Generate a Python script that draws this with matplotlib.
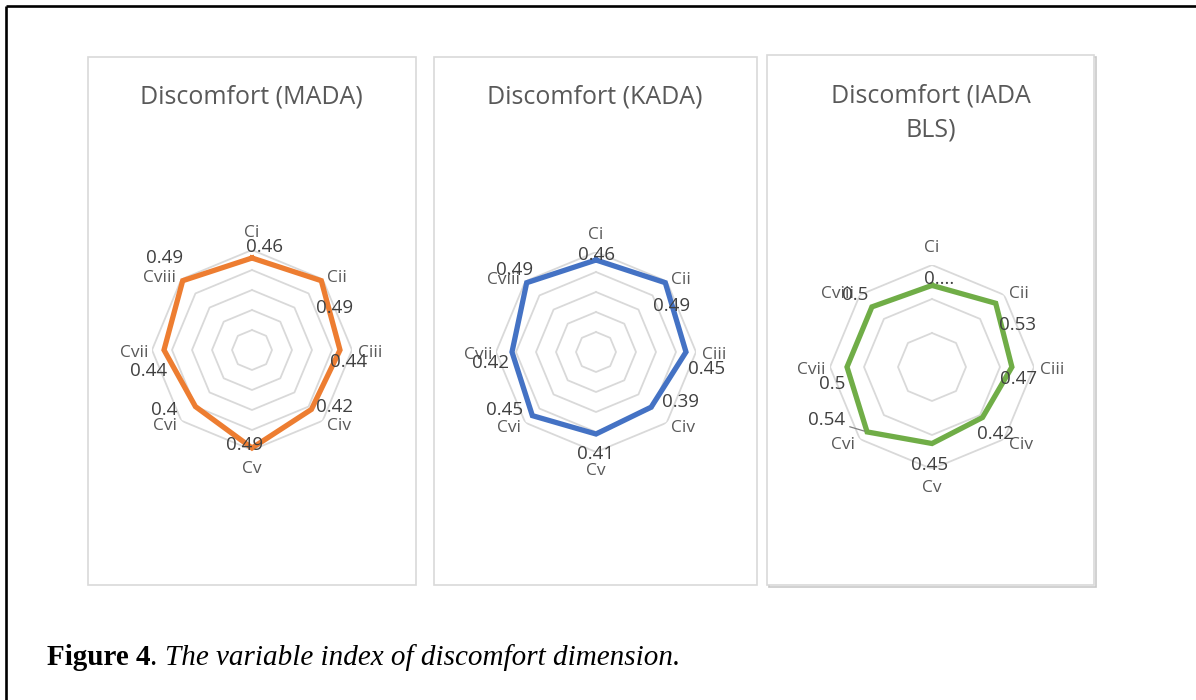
import numpy as np
import matplotlib
matplotlib.use("Agg")
import matplotlib.pyplot as plt
from matplotlib.patches import Rectangle


# =========================
# DATA
# =========================
CATEGORIES = ["Ci", "Cii", "Ciii", "Civ", "Cv", "Cvi", "Cvii", "Cviii"]

MADA = [0.46, 0.49, 0.44, 0.42, 0.49, 0.40, 0.44, 0.49]
KADA = [0.46, 0.49, 0.45, 0.39, 0.41, 0.45, 0.42, 0.49]
IADA_BLS = [0.48, 0.53, 0.47, 0.42, 0.45, 0.54, 0.50, 0.50]

MADA_LABELS = ["0.46", "0.49", "0.44", "0.42", "0.49", "0.4", "0.44", "0.49"]
KADA_LABELS = ["0.46", "0.49", "0.45", "0.39", "0.41", "0.45", "0.42", "0.49"]
IADA_LABELS = ["0....", "0.53", "0.47", "0.42", "0.45", "0.54", "0.5", "0.5"]

TITLES = ["Discomfort (MADA)", "Discomfort (KADA)", "Discomfort (IADA\nBLS)"]
COLORS = ["#ED7D31", "#4472C4", "#70AD47"]

CAPTION_BOLD = "Figure 4"
CAPTION_TEXT = "The variable index of discomfort dimension."


# =========================
# LAYOUT (pixels, y down)
# =========================
W, H = 1196, 700
FONT = "Open Sans"
GRAY_TXT = "#595959"
GRID = "#d9d9d9"

# panel boxes: x0, y0, x1, y1
BOXES = [(88, 57, 416, 585), (434, 57, 757, 585), (767, 55, 1094, 585)]
# radar centre and outer radius
CENTERS = [(252, 350, 100), (596, 352, 100), (932, 367, 102)]
RMAX = [0.5, 0.5, 0.6]
STEPS = [0.1, 0.1, 0.2]
TITLE_POS = [(251, 97), (595, 97), (931, 113)]

CAT_OFF = [(0, -117), (85, -72), (118, 3), (87, 76),
           (0, 119), (-87, 76), (-118, 3), (-93, -72)]
VAL_OFF = [
    [(12, -103), (83, -42), (97, 12), (82, 57), (-7, 95), (-88, 60), (-103, 21), (-87, -92)],
    [(0, -97), (76, -46), (111, 17), (84, 50), (0, 102), (-91, 58), (-106, 11), (-81, -82)],
    [(7, -88), (85, -42), (87, 12), (63, 67), (-2, 98), (-105, 53), (-100, 17), (-77, -72)],
]
LEADER = (2, 5)  # panel, category with a leader line

fig = plt.figure(figsize=(W / 100, H / 100), dpi=100)
fig.patch.set_facecolor("white")

bg = fig.add_axes([0, 0, 1, 1])
bg.set_xlim(0, W)
bg.set_ylim(H, 0)
bg.axis("off")
bg.set_zorder(0)

# outer black frame (left + top visible)
bg.plot([6, 6], [6, H], color="black", lw=1.9, solid_capstyle="butt")
bg.plot([6, W], [6, 6], color="black", lw=1.9, solid_capstyle="butt")

for j, (x0, y0, x1, y1) in enumerate(BOXES):
    if j == 2:
        # faint shadow on the third box
        bg.add_patch(Rectangle((x0 + 1.5, y0 + 1.5), x1 - x0, y1 - y0, fill=False,
                               edgecolor="#c9c9c9", lw=1.2))
    bg.add_patch(Rectangle((x0, y0), x1 - x0, y1 - y0, facecolor="white",
                           edgecolor=GRID, lw=1.2))

for (tx, ty), title in zip(TITLE_POS, TITLES):
    bg.text(tx, ty, title, ha="center", va="center", fontsize=18,
            color=GRAY_TXT, family=FONT, linespacing=1.45)

# =========================
# RADARS
# =========================
series = [MADA, KADA, IADA_BLS]
labels = [MADA_LABELS, KADA_LABELS, IADA_LABELS]

n = len(CATEGORIES)
angles = np.linspace(0, 2 * np.pi, n, endpoint=False)
ang_c = np.append(angles, angles[0])

for i in range(3):
    cx, cy, r = CENTERS[i]
    rect = [(cx - r) / W, (H - cy - r) / H, 2 * r / W, 2 * r / H]
    ax = fig.add_axes(rect, projection="polar")
    ax.set_zorder(2)
    ax.patch.set_alpha(0)
    ax.set_theta_zero_location("N")
    ax.set_theta_direction(-1)
    ax.set_ylim(0, RMAX[i])
    ax.set_xticks([])
    ax.set_yticks([])
    ax.grid(False)
    ax.spines["polar"].set_visible(False)

    levels = np.arange(STEPS[i], RMAX[i] + 1e-9, STEPS[i])
    for lvl in levels:
        ax.plot(ang_c, [lvl] * (n + 1), color=GRID, lw=1.3, zorder=1)

    vals = series[i]
    ax.plot(ang_c, vals + [vals[0]], color=COLORS[i], lw=3.8,
            solid_joinstyle="miter", zorder=3, clip_on=False)

    for k in range(n):
        ax.annotate(CATEGORIES[k], xy=(0.5, 0.5), xycoords="axes fraction",
                    xytext=(CAT_OFF[k][0] * r / 100, -CAT_OFF[k][1] * r / 100),
                    textcoords="offset pixels", ha="center", va="center",
                    fontsize=12.5, color=GRAY_TXT, family=FONT, zorder=4,
                    annotation_clip=False)

        # value label, positioned relative to its data point
        rp = vals[k] / RMAX[i] * r
        px, py = rp * np.sin(angles[k]), -rp * np.cos(angles[k])
        dx, dy = VAL_OFF[i][k]
        arrow = None
        if (i, k) == LEADER:
            arrow = dict(arrowstyle="-", color="#7f7f7f", lw=0.9,
                         shrinkA=1, shrinkB=2)
        ax.annotate(labels[i][k], xy=(angles[k], vals[k]), xycoords="data",
                    xytext=(dx - px, -(dy - py)), textcoords="offset pixels",
                    ha="center", va="center", fontsize=13.5, color="#404040",
                    family=FONT, zorder=5, annotation_clip=False,
                    arrowprops=arrow)

# =========================
# CAPTION
# =========================
t1 = bg.text(47, 665, CAPTION_BOLD, ha="left", va="baseline", fontsize=21,
             family="Liberation Serif", weight="bold", color="black")
t2 = bg.annotate(". ", xy=(1, 0), xycoords=t1, va="bottom", ha="left",
                 fontsize=21, family="Liberation Serif", color="black")
t3 = bg.annotate(CAPTION_TEXT, xy=(1, 0), xycoords=t2, va="bottom", ha="left",
                 fontsize=21, family="Liberation Serif", style="italic",
                 color="black")

fig.savefig("out.png", dpi=100)
